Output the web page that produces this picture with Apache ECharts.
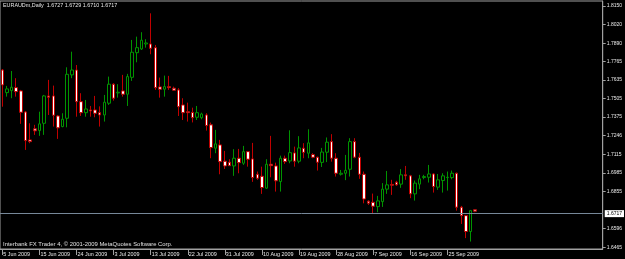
<!DOCTYPE html>
<html>
<head>
<meta charset="utf-8">
<script src="https://cdn.jsdelivr.net/npm/echarts@6/dist/echarts.min.js"></script>
<style>
html,body{margin:0;padding:0;background:#000;}
#chart{width:625px;height:259px;}
</style>
</head>
<body>
<div id="chart"></div>
<script>
// ---- data ----
const dates = ['5 Jun 2009','7 Jun 2009','8 Jun 2009','9 Jun 2009','10 Jun 2009','11 Jun 2009','12 Jun 2009','14 Jun 2009','15 Jun 2009','16 Jun 2009','17 Jun 2009','18 Jun 2009','19 Jun 2009','21 Jun 2009','22 Jun 2009','23 Jun 2009','24 Jun 2009','25 Jun 2009','26 Jun 2009','28 Jun 2009','29 Jun 2009','30 Jun 2009',
'1 Jul 2009','2 Jul 2009','3 Jul 2009','5 Jul 2009','6 Jul 2009','7 Jul 2009','8 Jul 2009','9 Jul 2009','10 Jul 2009','12 Jul 2009','13 Jul 2009','14 Jul 2009','15 Jul 2009','16 Jul 2009','17 Jul 2009','19 Jul 2009','20 Jul 2009','21 Jul 2009','22 Jul 2009','23 Jul 2009','24 Jul 2009','26 Jul 2009','27 Jul 2009','28 Jul 2009','29 Jul 2009','30 Jul 2009','31 Jul 2009',
'2 Aug 2009','3 Aug 2009','4 Aug 2009','5 Aug 2009','6 Aug 2009','7 Aug 2009','9 Aug 2009','10 Aug 2009','11 Aug 2009','12 Aug 2009','13 Aug 2009','14 Aug 2009','16 Aug 2009','17 Aug 2009','18 Aug 2009','19 Aug 2009','20 Aug 2009','21 Aug 2009','23 Aug 2009','24 Aug 2009','25 Aug 2009','26 Aug 2009','27 Aug 2009','28 Aug 2009','30 Aug 2009','31 Aug 2009',
'1 Sep 2009','2 Sep 2009','3 Sep 2009','4 Sep 2009','6 Sep 2009','7 Sep 2009','8 Sep 2009','9 Sep 2009','10 Sep 2009','11 Sep 2009','13 Sep 2009','14 Sep 2009','15 Sep 2009','16 Sep 2009','17 Sep 2009','18 Sep 2009','20 Sep 2009','21 Sep 2009','22 Sep 2009','23 Sep 2009','24 Sep 2009','25 Sep 2009','27 Sep 2009','28 Sep 2009','29 Sep 2009','30 Sep 2009','1 Oct 2009','2 Oct 2009'];

const openP = [1.7703,1.7545,1.7559,1.7580,1.7557,1.7410,1.7215,1.7292,1.7280,1.7331,
1.7522,1.7522,1.7382,1.7308,1.7366,1.7669,1.7703,1.7482,1.7405,1.7424,
1.7424,1.7405,1.7389,1.7471,1.7604,1.7543,1.7557,1.7534,1.7652,1.7824,
1.7850,1.7885,1.7885,1.7859,1.7585,1.7569,1.7587,1.7576,1.7564,1.7459,
1.7412,1.7407,1.7373,1.7370,1.7389,1.7320,1.7157,1.7180,1.7066,1.7059,
1.7033,1.7087,1.7052,1.7133,1.7082,1.6975,1.6961,1.6878,1.7045,1.7033,
1.6924,1.7087,1.7068,1.7124,1.7066,1.7157,1.7122,1.7112,1.7094,1.7058,
1.7129,1.7203,1.7087,1.6975,1.6982,1.7010,1.7203,1.7094,1.6975,1.6787,
1.6779,1.6749,1.6784,1.6871,1.6904,1.6920,1.6906,1.6971,1.6964,1.6838,
1.6906,1.6952,1.6954,1.6977,1.6885,1.6931,1.6952,1.6952,1.6982,1.6745,
1.6686,1.6575,1.6727];

const highP = [1.7710,1.7592,1.7696,1.7646,1.7564,1.7417,1.7331,1.7320,1.7412,1.7529,
1.7634,1.7594,1.7389,1.7401,1.7722,1.7831,1.7738,1.7541,1.7494,1.7452,
1.7522,1.7449,1.7529,1.7657,1.7611,1.7604,1.7669,1.7676,1.7913,1.7936,
1.7967,1.7918,1.8099,1.7878,1.7650,1.7664,1.7662,1.7587,1.7576,1.7506,
1.7475,1.7440,1.7452,1.7405,1.7401,1.7336,1.7285,1.7215,1.7138,1.7080,
1.7150,1.7152,1.7173,1.7138,1.7194,1.6994,1.7028,1.7080,1.7243,1.7056,
1.7105,1.7105,1.7282,1.7168,1.7241,1.7192,1.7289,1.7122,1.7098,1.7159,
1.7232,1.7255,1.7122,1.7005,1.7110,1.7227,1.7227,1.7124,1.6994,1.6793,
1.6840,1.6824,1.6913,1.6998,1.6936,1.6929,1.7011,1.7033,1.6971,1.6931,
1.6971,1.6971,1.7040,1.6982,1.6977,1.6982,1.6994,1.7001,1.6987,1.6754,
1.6691,1.6726,1.6729];

const lowP = [1.7447,1.7517,1.7506,1.7517,1.7327,1.7145,1.7192,1.7250,1.7243,1.7250,
1.7389,1.7308,1.7222,1.7303,1.7303,1.7646,1.7377,1.7382,1.7377,1.7377,
1.7373,1.7308,1.7343,1.7459,1.7489,1.7510,1.7517,1.7452,1.7627,1.7757,
1.7843,1.7859,1.7813,1.7564,1.7510,1.7517,1.7564,1.7557,1.7382,1.7354,
1.7343,1.7337,1.7354,1.7359,1.7280,1.7087,1.7122,1.6975,1.7012,1.7033,
1.6964,1.6982,1.7040,1.7028,1.6922,1.6936,1.6838,1.6873,1.6954,1.6854,
1.6854,1.7047,1.7052,1.7028,1.7052,1.7087,1.7087,1.7087,1.7001,1.7026,
1.7060,1.7063,1.6959,1.6966,1.6934,1.6959,1.7087,1.6943,1.6772,1.6761,
1.6703,1.6710,1.6747,1.6838,1.6831,1.6894,1.6880,1.6936,1.6808,1.6791,
1.6871,1.6940,1.6917,1.6847,1.6866,1.6847,1.6861,1.6940,1.6721,1.6628,
1.6529,1.6505,1.6710];

const closeP = [1.7599,1.7571,1.7583,1.7552,1.7408,1.7210,1.7203,1.7278,1.7327,1.7522,
1.7513,1.7387,1.7299,1.7359,1.7673,1.7703,1.7482,1.7405,1.7431,1.7417,
1.7401,1.7389,1.7478,1.7604,1.7506,1.7548,1.7534,1.7657,1.7827,1.7859,
1.7911,1.7892,1.7855,1.7580,1.7569,1.7587,1.7580,1.7562,1.7447,1.7405,
1.7405,1.7370,1.7405,1.7396,1.7315,1.7161,1.7187,1.7063,1.7033,1.7035,
1.7087,1.7056,1.7133,1.7080,1.6952,1.6947,1.6882,1.7045,1.7035,1.6929,
1.7087,1.7063,1.7126,1.7066,1.7159,1.7128,1.7194,1.7094,1.7059,1.7130,
1.7199,1.7087,1.6982,1.6982,1.7002,1.7203,1.7094,1.6975,1.6802,1.6773,
1.6752,1.6789,1.6871,1.6901,1.6899,1.6901,1.6971,1.6964,1.6838,1.6913,
1.6943,1.6959,1.6977,1.6889,1.6936,1.6964,1.6954,1.6982,1.6745,1.6686,
1.6575,1.6721,1.6717];

const futureSlots = 27; // empty space right of last bar (chart shift)
const priceTicks = [1.8150,1.8020,1.7890,1.7765,1.7635,1.7505,1.7375,1.7246,1.7115,1.6985,1.6855,1.6596,1.6465];
const currentPrice = 1.6717;
const titleText = 'EURAUDm,Daily  1.6727 1.6729 1.6710 1.6717';
const footerText = 'Interbank FX Trader 4, \u00A9 2001-2009 MetaQuotes Software Corp.';

// ---- build ----
const categories = dates.concat(new Array(futureSlots).fill(''));
const candles = dates.map((d, i) => [openP[i], closeP[i], lowP[i], highP[i]]);
const labelEvery = (idx, val) => idx % 8 === 0 && val !== '';
const FONT = 'Liberation Sans';

const chart = echarts.init(document.getElementById('chart'), null, {renderer: 'canvas'});
chart.setOption({
  animation: false,
  backgroundColor: '#000000',
  title: {
    text: titleText, left: 3, top: 3, padding: 0,
    textStyle: {color: '#e8e8e8', fontSize: 5.4, fontWeight: 'normal', fontFamily: FONT}
  },
  graphic: [{
    type: 'text', left: 3, top: 241,
    style: {text: footerText, fill: '#e0e0e0', fontSize: 5.9, fontFamily: FONT}
  }],
  grid: {
    left: 0, right: 22, top: 1, bottom: 10,
    show: true, borderColor: '#a0a0a0', borderWidth: 1, backgroundColor: '#000'
  },
  xAxis: {
    type: 'category', data: categories, boundaryGap: true,
    axisLine: {show: true, lineStyle: {color: '#a0a0a0'}},
    axisTick: {show: true, interval: labelEvery, alignWithLabel: true, length: 6, lineStyle: {color: '#a0a0a0'}},
    axisLabel: {interval: labelEvery, align: 'left', margin: 3, padding: [0,0,0,1],
      color: '#e8e8e8', fontSize: 5.4, fontFamily: FONT},
    splitLine: {show: false}
  },
  yAxis: {
    type: 'value', position: 'right', min: 1.6453, max: 1.8185, scale: true,
    axisLine: {show: true, lineStyle: {color: '#a0a0a0'}},
    axisTick: {show: true, customValues: priceTicks, length: 3, lineStyle: {color: '#a0a0a0'}},
    axisLabel: {customValues: priceTicks, formatter: v => v.toFixed(4), margin: 4,
      color: '#e8e8e8', fontSize: 5, fontFamily: FONT},
    splitLine: {show: false}
  },
  series: [{
    type: 'candlestick',
    data: candles,
    barWidth: 3,
    itemStyle: {
      color: '#000000', borderColor: '#009400',
      color0: '#ffffff', borderColor0: '#c00000',
      borderWidth: 1
    },
    markLine: {
      silent: true, symbol: 'none',
      lineStyle: {color: '#778899', width: 1, type: 'solid'},
      label: {position: 'end', formatter: currentPrice.toFixed(4), color: '#000',
        backgroundColor: '#ffffff', fontSize: 5, fontFamily: FONT, padding: [1,2,1,2], distance: 2},
      data: [{yAxis: currentPrice}]
    }
  }]
});
</script>
</body>
</html>
